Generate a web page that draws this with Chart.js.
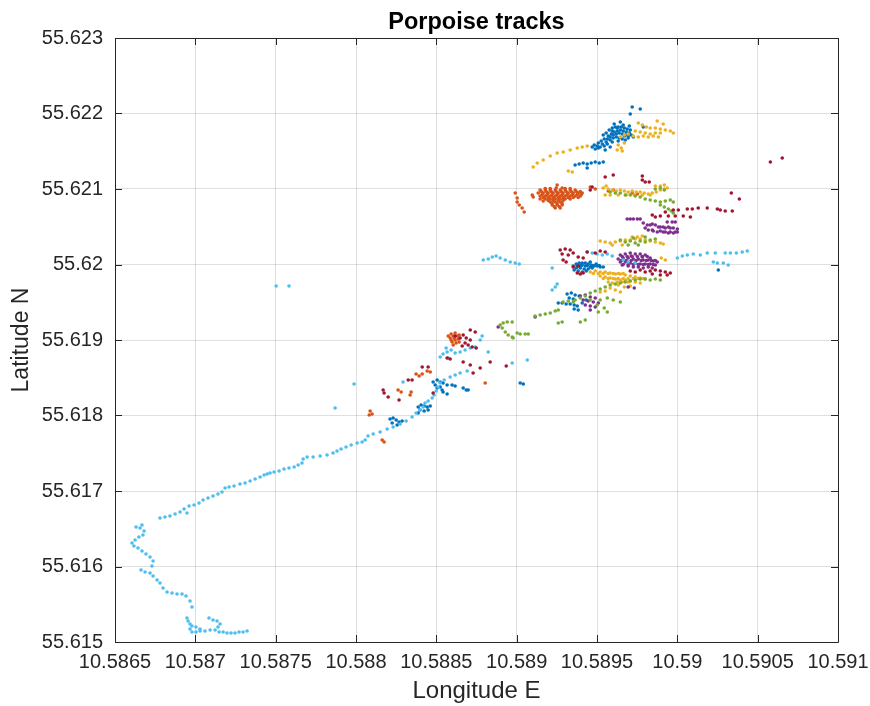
<!DOCTYPE html>
<html>
<head>
<meta charset="utf-8">
<script src="https://cdn.jsdelivr.net/npm/chart.js@4.4.0/dist/chart.umd.min.js"></script>
<style>
  body { margin: 0; background: #fff; }
  canvas { display: block; }
</style>
</head>
<body>
<canvas id="tracks" width="870" height="706"></canvas>
<script>
const plotTitle = "Porpoise tracks";

// axis ticks
const xTicks = [10.5865, 10.587, 10.5875, 10.588, 10.5885, 10.589, 10.5895, 10.59, 10.5905, 10.591];
const xTickLabels = ["10.5865", "10.587", "10.5875", "10.588", "10.5885", "10.589", "10.5895", "10.59", "10.5905", "10.591"];
const yTicks = [55.615, 55.616, 55.617, 55.618, 55.619, 55.62, 55.621, 55.622, 55.623];
const yTickLabels = ["55.615", "55.616", "55.617", "55.618", "55.619", "55.62", "55.621", "55.622", "55.623"];

// tracks, [longitude, latitude]
const trackBlue = [
  [10.589470,55.621556],[10.589489,55.621530],[10.589501,55.621570],[10.589520,55.621556],[10.589508,55.621609],
  [10.589526,55.621636],[10.589545,55.621662],[10.589557,55.621623],[10.589539,55.621715],[10.589557,55.621742],
  [10.589576,55.621781],[10.589595,55.621808],[10.589614,55.621821],[10.589632,55.621821],[10.589651,55.621821],
  [10.589670,55.621808],[10.589570,55.621702],[10.589589,55.621728],[10.589607,55.621755],[10.589626,55.621768],
  [10.589645,55.621781],[10.589663,55.621768],[10.589682,55.621755],[10.589701,55.621742],[10.589713,55.621715],
  [10.589726,55.621689],[10.589694,55.621675],[10.589676,55.621649],[10.589657,55.621662],[10.589638,55.621675],
  [10.589620,55.621689],[10.589601,55.621675],[10.589582,55.621649],[10.589564,55.621596],[10.589595,55.621623],
  [10.589632,55.621636],[10.589670,55.621702],[10.589688,55.621795],[10.589607,55.621861],[10.589645,55.621887],
  [10.589701,55.621834],[10.589719,55.622086],[10.589769,55.622060],[10.589707,55.621993],[10.589788,55.621821],
  [10.589551,55.621517],[10.589582,55.621556],[10.589533,55.621596],[10.589545,55.621570],[10.589564,55.621662],
  [10.589582,55.621689],[10.589601,55.621715],[10.589620,55.621728],[10.589638,55.621742],[10.589657,55.621728],
  [10.589676,55.621715],[10.589694,55.621702],[10.589626,55.621808],[10.589663,55.621848],[10.589595,55.621768],
  [10.589707,55.621781],[10.589508,55.621543],[10.589483,55.621583],
  [10.589364,55.621318],[10.589389,55.621331],[10.589414,55.621344],[10.589439,55.621331],[10.589464,55.621344],
  [10.589489,55.621358],[10.589514,55.621344],[10.589539,55.621358],[10.589439,55.621278],
  [10.589352,55.619980],[10.589371,55.620007],[10.589389,55.620020],[10.589408,55.620020],[10.589427,55.620020],
  [10.589445,55.620007],[10.589464,55.619993],[10.589483,55.619980],[10.589501,55.619980],[10.589520,55.619967],
  [10.589539,55.619967],[10.589371,55.619954],[10.589396,55.619954],[10.589420,55.619940],[10.589445,55.619940],
  [10.589470,55.619954],[10.589383,55.619914],[10.589408,55.619901],[10.589433,55.619914],[10.589358,55.619927],
  [10.589458,55.620033],[10.589495,55.620007],[10.589389,55.619980],[10.589427,55.619980],[10.589458,55.619967],
  [10.589408,55.619993],[10.589377,55.619987],[10.589402,55.619987],[10.589439,55.619987],[10.589477,55.619987],
  [10.589514,55.619987],
  [10.589314,55.619609],[10.589340,55.619623],[10.589364,55.619596],[10.589389,55.619583],[10.589327,55.619556],
  [10.589352,55.619543],[10.589259,55.619490],[10.589283,55.619490],[10.589308,55.619477],[10.589333,55.619477],
  [10.589358,55.619464],[10.589377,55.619450],[10.589358,55.619411],[10.589383,55.619397],[10.589408,55.619490],
  [10.589433,55.619530],
  [10.588480,55.618444],[10.588505,55.618470],[10.588524,55.618444],[10.588542,55.618430],[10.588567,55.618404],
  [10.588598,55.618404],[10.588617,55.618391],[10.588524,55.618377],[10.588536,55.618338],[10.588542,55.618311],
  [10.588567,55.618285],[10.588493,55.618404],[10.588505,55.618364],[10.588667,55.618364],[10.588686,55.618338],
  [10.588698,55.618338],
  [10.588387,55.618113],[10.588405,55.618139],[10.588424,55.618126],[10.588443,55.618113],[10.588462,55.618126],
  [10.588399,55.618073],[10.588424,55.618060],[10.588449,55.618073],[10.588387,55.618033],
  [10.588212,55.617954],[10.588231,55.617967],[10.588250,55.617940],[10.588268,55.617914],[10.588287,55.617927],
  [10.588225,55.617901],[10.588256,55.617874],
  [10.589022,55.618430],[10.589041,55.618417],[10.590255,55.619927]
];

const trackOrange = [
  [10.589146,55.620987],[10.589178,55.620987],[10.589209,55.620987],[10.589240,55.620987],[10.589271,55.620987],
  [10.589302,55.620987],[10.589333,55.620987],[10.589364,55.620987],
  [10.589153,55.620967],[10.589184,55.620967],[10.589215,55.620967],[10.589246,55.620967],[10.589277,55.620967],
  [10.589308,55.620967],[10.589340,55.620967],[10.589371,55.620967],[10.589396,55.620967],
  [10.589134,55.620947],[10.589165,55.620947],[10.589196,55.620947],[10.589227,55.620947],[10.589259,55.620947],
  [10.589289,55.620947],[10.589321,55.620947],[10.589352,55.620947],[10.589383,55.620947],[10.589408,55.620947],
  [10.589159,55.620927],[10.589190,55.620927],[10.589221,55.620927],[10.589252,55.620927],[10.589283,55.620927],
  [10.589315,55.620927],[10.589346,55.620927],[10.589377,55.620927],[10.589402,55.620927],
  [10.589146,55.620907],[10.589178,55.620907],[10.589209,55.620907],[10.589240,55.620907],[10.589271,55.620907],
  [10.589302,55.620907],[10.589333,55.620907],[10.589364,55.620907],[10.589396,55.620907],
  [10.589165,55.620887],[10.589196,55.620887],[10.589227,55.620887],[10.589259,55.620887],[10.589289,55.620887],
  [10.589321,55.620887],[10.589352,55.620887],[10.589383,55.620887],
  [10.589178,55.620868],[10.589209,55.620868],[10.589240,55.620868],[10.589271,55.620868],[10.589302,55.620868],
  [10.589333,55.620868],
  [10.589196,55.620848],[10.589227,55.620848],[10.589259,55.620848],[10.589289,55.620848],
  [10.589209,55.620828],[10.589240,55.620828],[10.589271,55.620828],
  [10.589221,55.620808],[10.589252,55.620808],[10.589283,55.620808],
  [10.589221,55.620788],[10.589252,55.620788],[10.589283,55.620788],
  [10.589234,55.620768],[10.589265,55.620768],
  [10.589240,55.620748],[10.589271,55.620748],
  [10.589178,55.621007],[10.589209,55.621007],[10.589302,55.621007],[10.589333,55.621007],
  [10.589252,55.621053],[10.589246,55.621013],[10.589283,55.621013],
  [10.588991,55.620947],[10.589003,55.620881],[10.589003,55.620828],[10.589016,55.620788],[10.589034,55.620748],
  [10.589047,55.620695],[10.589097,55.620921],[10.589103,55.620894],[10.589146,55.620868],[10.589165,55.620841],
  [10.589458,55.621026],[10.589489,55.621000],[10.589570,55.620974],[10.589601,55.620987],[10.589719,55.620947],
  [10.589751,55.620934],
  [10.588592,55.619079],[10.588617,55.619093],[10.588642,55.619066],[10.588586,55.619026],[10.588611,55.619026],
  [10.588636,55.619013],[10.588598,55.618974],[10.588623,55.618960],[10.588605,55.618934],[10.588574,55.619053],
  [10.588605,55.619053],[10.588630,55.619053],[10.588617,55.619000],[10.588592,55.619000],[10.588642,55.618974],
  [10.588374,55.618550],[10.588393,55.618523],[10.588412,55.618550],[10.588443,55.618589],[10.588462,55.618576],
  [10.588262,55.618338],[10.588281,55.618311],[10.588343,55.618311],[10.588337,55.618271],
  [10.588088,55.618060],[10.588100,55.618020],[10.588082,55.618007],
  [10.588163,55.617676],[10.588175,55.617649],[10.588804,55.618430]
];

const trackYellow = [
  [10.589757,55.621874],[10.589782,55.621848],[10.589807,55.621821],[10.589831,55.621808],[10.589863,55.621808],
  [10.589894,55.621795],[10.589925,55.621781],[10.589956,55.621768],[10.589975,55.621742],[10.589738,55.621768],
  [10.589769,55.621755],[10.589800,55.621742],[10.589831,55.621728],[10.589863,55.621742],[10.589894,55.621742],
  [10.589726,55.621702],[10.589757,55.621689],[10.589788,55.621702],[10.589819,55.621689],[10.589850,55.621702],
  [10.589882,55.621689],[10.589645,55.621689],[10.589670,55.621715],[10.589694,55.621728],[10.589632,55.621583],
  [10.589651,55.621543],[10.589670,55.621609],[10.589626,55.621517],[10.589657,55.621503],[10.589875,55.621901],
  [10.589912,55.621861],
  [10.589103,55.621291],[10.589128,55.621344],[10.589165,55.621384],[10.589209,55.621437],[10.589252,55.621477],
  [10.589290,55.621490],[10.589333,55.621517],[10.589377,55.621543],[10.589408,55.621556],[10.589439,55.621570],
  [10.589321,55.621238],[10.589346,55.621225],
  [10.589539,55.621013],[10.589570,55.621000],[10.589595,55.620987],[10.589620,55.620974],[10.589645,55.620987],
  [10.589670,55.620974],[10.589694,55.620960],[10.589719,55.620974],[10.589744,55.620960],[10.589769,55.620960],
  [10.589794,55.620947],[10.589819,55.620934],[10.589844,55.620947],[10.589869,55.620960],[10.589894,55.620987],
  [10.589919,55.621000],[10.589937,55.621013],[10.589863,55.621040],[10.589894,55.621040],[10.589919,55.621053],
  [10.589557,55.621040],[10.589551,55.620921],[10.589582,55.620921],[10.589632,55.620921],[10.589682,55.620921],
  [10.589732,55.620921],[10.589782,55.620921],[10.589831,55.620921],
  [10.589520,55.620311],[10.589551,55.620298],[10.589582,55.620285],[10.589614,55.620298],[10.589645,55.620311],
  [10.589676,55.620325],[10.589707,55.620325],[10.589738,55.620338],[10.589769,55.620338],[10.589800,55.620325],
  [10.589831,55.620311],[10.589863,55.620298],[10.589894,55.620285],[10.589912,55.620272],[10.589595,55.620258],
  [10.589657,55.620258],[10.589719,55.620364],[10.589751,55.620364],[10.589782,55.620377],
  [10.589458,55.619901],[10.589489,55.619914],[10.589520,55.619901],[10.589551,55.619901],[10.589582,55.619887],
  [10.589614,55.619874],[10.589645,55.619874],[10.589676,55.619861],[10.589707,55.619848],[10.589738,55.619834],
  [10.589769,55.619821],[10.589800,55.619808],[10.589520,55.619848],[10.589551,55.619834],[10.589582,55.619821],
  [10.589614,55.619808],[10.589645,55.619795],[10.589676,55.619795],[10.589707,55.619781],[10.589738,55.619768],
  [10.589769,55.619755],[10.589595,55.619755],[10.589632,55.619728],[10.589670,55.619702],[10.589707,55.619715],
  [10.589614,55.619662],[10.589645,55.619636],[10.589582,55.619689],[10.589520,55.619636],[10.589551,55.619649],
  [10.589477,55.619881],[10.589508,55.619881],[10.589539,55.619881],[10.589570,55.619881],[10.589601,55.619881],
  [10.589632,55.619881],[10.589663,55.619881],[10.589539,55.619815],[10.589570,55.619815],[10.589601,55.619815],
  [10.589632,55.619815],[10.589663,55.619815],[10.589694,55.619815],[10.589726,55.619815],[10.589757,55.619815],
  [10.589788,55.619815],[10.589570,55.619768],[10.589626,55.619768],[10.589657,55.619768],[10.589694,55.619768],
  [10.589900,55.620086],[10.589925,55.620060]
];

const trackPurple = [
  [10.589645,55.620126],[10.589676,55.620139],[10.589707,55.620152],[10.589738,55.620139],[10.589769,55.620139],
  [10.589800,55.620126],[10.589632,55.620073],[10.589663,55.620086],[10.589694,55.620086],[10.589726,55.620073],
  [10.589757,55.620073],[10.589788,55.620060],[10.589819,55.620060],[10.589850,55.620046],[10.589875,55.620033],
  [10.589645,55.620033],[10.589676,55.620033],[10.589707,55.620020],[10.589738,55.620020],[10.589769,55.620007],
  [10.589800,55.620007],[10.589831,55.620007],[10.589863,55.619993],[10.589694,55.619980],[10.589726,55.619967],
  [10.589757,55.619967],[10.589788,55.619954],[10.589819,55.619967],[10.589844,55.619954],[10.589713,55.620113],
  [10.589782,55.620099],[10.589831,55.620086],[10.589657,55.619993],
  [10.589657,55.620106],[10.589688,55.620106],[10.589719,55.620106],[10.589751,55.620106],[10.589782,55.620106],
  [10.589813,55.620106],[10.589651,55.620053],[10.589682,55.620053],[10.589713,55.620053],[10.589744,55.620053],
  [10.589775,55.620053],[10.589807,55.620053],[10.589838,55.620053],[10.589863,55.620053],[10.589663,55.620000],
  [10.589694,55.620000],[10.589726,55.620000],[10.589757,55.620000],[10.589788,55.620000],[10.589819,55.620000],
  [10.589850,55.620000],
  [10.589688,55.620603],[10.589707,55.620603],[10.589726,55.620603],[10.589751,55.620603],[10.589769,55.620603],
  [10.589788,55.620550],[10.589813,55.620523],[10.589844,55.620536],[10.589863,55.620523],[10.589882,55.620497],
  [10.589912,55.620497],[10.589944,55.620497],[10.589975,55.620483],[10.590000,55.620470],[10.589800,55.620483],
  [10.589819,55.620457],[10.589850,55.620444],[10.589875,55.620430],[10.589894,55.620444],[10.589925,55.620430],
  [10.589956,55.620430],[10.589987,55.620430],[10.589937,55.620563],[10.589968,55.620563],[10.589987,55.620563],
  [10.589831,55.620523],[10.589894,55.620497],[10.589925,55.620483],[10.589956,55.620483],[10.589844,55.620457],
  [10.589912,55.620430],[10.589944,55.620417],[10.589975,55.620417],[10.590000,55.620430],
  [10.589396,55.619583],[10.589427,55.619596],[10.589458,55.619570],[10.589489,55.619556],[10.589414,55.619530],
  [10.589445,55.619517],[10.589477,55.619503],[10.589508,55.619490],[10.589427,55.619464],[10.589458,55.619450],
  [10.589489,55.619437],[10.589458,55.619397],
  [10.589115,55.619305],[10.588885,55.619172],[10.589694,55.619702],[10.589732,55.619689]
];

const trackGreen = [
  [10.589582,55.620960],[10.589614,55.620947],[10.589645,55.620947],[10.589676,55.620921],[10.589707,55.620921],
  [10.589738,55.620907],[10.589769,55.620894],[10.589800,55.620868],[10.589831,55.620854],[10.589863,55.620841],
  [10.589894,55.620828],[10.589925,55.620841],[10.589956,55.620854],[10.589975,55.620828],[10.589894,55.620788],
  [10.589919,55.620762],[10.589944,55.620735],[10.589962,55.620709],[10.589975,55.620682],[10.589863,55.621000],
  [10.589894,55.621013],[10.589919,55.620987],
  [10.589645,55.620325],[10.589676,55.620298],[10.589707,55.620311],[10.589738,55.620285],[10.589769,55.620311],
  [10.589800,55.620298],[10.589831,55.620325],[10.589863,55.620338],[10.589694,55.620258],[10.589757,55.620258],
  [10.589726,55.620351],[10.589800,55.620364],
  [10.589364,55.619530],[10.589396,55.619556],[10.589427,55.619583],[10.589458,55.619623],[10.589489,55.619649],
  [10.589520,55.619676],[10.589551,55.619702],[10.589582,55.619728],[10.589614,55.619742],[10.589645,55.619755],
  [10.589676,55.619768],[10.589707,55.619781],[10.589738,55.619795],[10.589769,55.619808],[10.589800,55.619808],
  [10.589831,55.619795],[10.589863,55.619808],[10.589894,55.619795],
  [10.589289,55.619503],[10.589321,55.619517],[10.589352,55.619503],[10.589458,55.619530],[10.589520,55.619530],
  [10.589564,55.619556],[10.589601,55.619530],[10.589645,55.619503],[10.589501,55.619464],[10.589508,55.619371],
  [10.589564,55.619371],[10.589545,55.619424],
  [10.589115,55.619318],[10.589146,55.619331],[10.589178,55.619344],[10.589209,55.619358],[10.589240,55.619384],
  [10.589259,55.619397],
  [10.588897,55.619199],[10.588916,55.619225],[10.588941,55.619238],[10.588972,55.619238],[10.588910,55.619159],
  [10.588929,55.619106],[10.588947,55.619066],[10.588972,55.619040],[10.588978,55.619026],[10.589003,55.619093],
  [10.589022,55.619079],[10.589053,55.619079],[10.589072,55.619079],[10.589259,55.619225],[10.589283,55.619238],
  [10.589396,55.619238],[10.589427,55.619265]
];

const trackLightBlue = [
  [10.587322,55.615146],[10.587297,55.615132],[10.587272,55.615132],[10.587247,55.615119],[10.587222,55.615119],
  [10.587197,55.615119],[10.587173,55.615132],[10.587148,55.615132],[10.587123,55.615159],[10.587141,55.615199],
  [10.587154,55.615238],[10.587135,55.615278],[10.587110,55.615291],[10.587085,55.615318],[10.587092,55.615159],
  [10.587060,55.615146],[10.587029,55.615146],[10.587004,55.615132],[10.586979,55.615132],[10.586967,55.615172],
  [10.586979,55.615212],[10.587004,55.615199],[10.587029,55.615172],[10.586955,55.615278],[10.586967,55.615238],
  [10.586948,55.615318],[10.586979,55.615464],[10.586967,55.615543],[10.586942,55.615609],[10.586917,55.615636],
  [10.586886,55.615636],[10.586855,55.615649],[10.586824,55.615662],[10.586799,55.615715],[10.586780,55.615781],
  [10.586762,55.615821],[10.586737,55.615874],[10.586718,55.615914],[10.586687,55.615927],[10.586662,55.615954],
  [10.586730,55.616007],[10.586737,55.616073],[10.586718,55.616126],[10.586693,55.616166],[10.586668,55.616205],
  [10.586643,55.616245],[10.586618,55.616272],[10.586606,55.616311],[10.586625,55.616351],[10.586649,55.616391],
  [10.586674,55.616417],[10.586681,55.616470],[10.586656,55.616510],[10.586631,55.616523],[10.586668,55.616550],
  [10.586780,55.616642],[10.586811,55.616656],[10.586842,55.616669],[10.586874,55.616695],[10.586905,55.616722],
  [10.586930,55.616762],[10.586948,55.616709],[10.586961,55.616801],[10.586992,55.616815],[10.587023,55.616841],
  [10.587048,55.616881],[10.587079,55.616907],[10.587110,55.616934],[10.587141,55.616960],[10.587166,55.616987],
  [10.587185,55.617040],[10.587210,55.617053],[10.587241,55.617066],[10.587278,55.617093],[10.587310,55.617106],
  [10.587341,55.617132],[10.587372,55.617159],[10.587403,55.617185],[10.587428,55.617212],[10.587447,55.617225],
  [10.587465,55.617238],[10.587490,55.617252],[10.587521,55.617265],[10.587552,55.617291],[10.587583,55.617305],
  [10.587615,55.617318],[10.587640,55.617344],[10.587664,55.617371],[10.587671,55.617424],[10.587696,55.617450],
  [10.587733,55.617450],[10.587777,55.617464],[10.587820,55.617477],[10.587857,55.617503],[10.587882,55.617530],
  [10.587907,55.617556],[10.587938,55.617583],[10.587970,55.617609],[10.588007,55.617636],[10.588038,55.617649],
  [10.588057,55.617675],[10.588075,55.617728],[10.588107,55.617755],[10.588150,55.617781],[10.588194,55.617821],
  [10.588231,55.617848],[10.588275,55.617887],[10.588312,55.617927],[10.588349,55.617980],[10.588374,55.618033],
  [10.588399,55.618073],[10.588418,55.618113],[10.588430,55.618166],[10.588449,55.618192],[10.588474,55.618232],
  [10.588486,55.618272],[10.588499,55.618324],[10.588511,55.618377],[10.588524,55.618430],[10.588549,55.618470],
  [10.588586,55.618510],[10.588617,55.618536],[10.588648,55.618563],[10.588692,55.618589],
  [10.588542,55.618815],[10.588567,55.618841],[10.588592,55.618868],[10.588561,55.618894],[10.588617,55.618828],
  [10.588648,55.618841],[10.588679,55.618868],[10.588711,55.618894],[10.588742,55.618907],[10.588773,55.619000],
  [10.588785,55.619053],[10.588823,55.618841],[10.588524,55.618775],[10.588574,55.618762],
  [10.587988,55.618417],[10.587870,55.618099],[10.588293,55.618444],[10.588972,55.618695],[10.589066,55.618735],
  [10.589221,55.619662],[10.589240,55.619702],[10.589252,55.619742],[10.589221,55.619954],
  [10.587503,55.619715],[10.587583,55.619715],
  [10.588792,55.620060],[10.588823,55.620073],[10.588848,55.620099],[10.588872,55.620113],[10.588897,55.620086],
  [10.588929,55.620060],[10.588960,55.620033],[10.588991,55.620020],[10.589016,55.620007],
  [10.589439,55.620166],[10.589470,55.620152],[10.589501,55.620139],[10.589533,55.620126],[10.589564,55.620139],
  [10.589595,55.620113],[10.589663,55.620060],[10.589694,55.620033],[10.589738,55.620020],
  [10.590000,55.620086],[10.590031,55.620113],[10.590062,55.620126],[10.590099,55.620139],[10.590143,55.620126],
  [10.590186,55.620152],[10.590236,55.620152],[10.590298,55.620152],[10.590330,55.620152],[10.590367,55.620152],
  [10.590404,55.620166],[10.590435,55.620179],[10.590224,55.620033],[10.590249,55.620020],[10.590286,55.620020],
  [10.590317,55.619993]
];

const trackRed = [
  [10.590579,55.621358],[10.590653,55.621411],
  [10.589863,55.620629],[10.589925,55.620695],[10.589975,55.620722],[10.590006,55.620722],[10.590062,55.620735],
  [10.590093,55.620735],[10.590130,55.620748],[10.590186,55.620748],[10.590249,55.620735],[10.590267,55.620722],
  [10.590298,55.620709],[10.590342,55.620709],[10.590336,55.620947],[10.590386,55.620868],[10.589894,55.620642],
  [10.589944,55.620642],[10.589987,55.620642],[10.590037,55.620642],[10.590081,55.620629],[10.589844,55.620656],
  [10.589782,55.621172],[10.589782,55.621119],[10.589800,55.621093],[10.589825,55.621093],[10.589551,55.621159],
  [10.589601,55.621185],[10.589458,55.620987],[10.589470,55.621026],
  [10.589271,55.620192],[10.589302,55.620206],[10.589333,55.620192],[10.589283,55.620139],[10.589321,55.620126],
  [10.589352,55.620152],[10.589383,55.620099],[10.589414,55.620086],[10.589289,55.620060],[10.589308,55.620033],
  [10.589439,55.620166],[10.589489,55.620152],[10.589520,55.620179],[10.589551,55.620166],[10.589377,55.619887],
  [10.589396,55.619874],[10.589414,55.619887],[10.589352,55.619967],[10.589383,55.619980],
  [10.589707,55.619914],[10.589738,55.619901],[10.589769,55.619927],[10.589800,55.619901],[10.589831,55.619914],
  [10.589863,55.619927],[10.589894,55.619914],[10.589925,55.619901],[10.589956,55.619887],[10.589844,55.619874],
  [10.589894,55.619861],[10.589937,55.619861],
  [10.588617,55.619053],[10.588648,55.619026],[10.588667,55.619066],[10.588686,55.619026],[10.588711,55.619000],
  [10.588679,55.618960],[10.588698,55.618934],[10.588723,55.618907],[10.588748,55.618894],[10.588661,55.618921],
  [10.588711,55.619132],[10.588742,55.619106],[10.588567,55.618762],[10.588586,55.618748],[10.588667,55.618709],
  [10.588711,55.618669],[10.588729,55.618563],[10.588835,55.618709],[10.588773,55.618629],[10.588412,55.618642],
  [10.588449,55.618642],[10.588325,55.618470],[10.588349,55.618470],[10.588169,55.618338],[10.588175,55.618298],
  [10.588200,55.618245],[10.588268,55.618205],[10.588480,55.618298],[10.588935,55.618656]
];

const seriesColors = ["#0072BD", "#D95319", "#EDB120", "#7E2F8E", "#77AC30", "#4DBEEE", "#A2142F"];
const seriesTracks = [trackBlue, trackOrange, trackYellow, trackPurple, trackGreen, trackLightBlue, trackRed];

const axisColor = "#262626";
const gridColor = "rgba(38,38,38,0.15)";
const fontFamily = "'Liberation Sans', Arial, Helvetica, sans-serif";

// MATLAB style box with inward tick marks, title centred over the axes
const boxTicks = {
  id: "boxTicks",
  afterDraw(chart) {
    const { ctx, chartArea: a, scales } = chart;
    const len = 7;
    ctx.save();
    ctx.strokeStyle = axisColor;
    ctx.lineWidth = 1;
    ctx.beginPath();
    ctx.rect(Math.round(a.left) + 0.5, Math.round(a.top) + 0.5,
      Math.round(a.right - a.left), Math.round(a.bottom - a.top));
    xTicks.forEach(v => {
      const x = Math.round(scales.x.getPixelForValue(v)) + 0.5;
      ctx.moveTo(x, a.bottom); ctx.lineTo(x, a.bottom - len);
      ctx.moveTo(x, a.top); ctx.lineTo(x, a.top + len);
    });
    yTicks.forEach(v => {
      const y = Math.round(scales.y.getPixelForValue(v)) + 0.5;
      ctx.moveTo(a.left, y); ctx.lineTo(a.left + len, y);
      ctx.moveTo(a.right, y); ctx.lineTo(a.right - len, y);
    });
    ctx.stroke();

    ctx.fillStyle = "#000";
    ctx.font = "bold 23.5px " + fontFamily;
    ctx.textAlign = "center";
    ctx.textBaseline = "middle";
    ctx.fillText(plotTitle, (a.left + a.right) / 2, 23);
    ctx.restore();
  }
};

new Chart(document.getElementById("tracks"), {
  type: "scatter",
  data: {
    datasets: seriesTracks.map((t, i) => ({
      data: t.map(p => ({ x: p[0], y: p[1] })),
      backgroundColor: seriesColors[i],
      borderColor: seriesColors[i],
      borderWidth: 0,
      pointRadius: 1.8,
      order: seriesTracks.length - i
    }))
  },
  options: {
    responsive: false,
    animation: false,
    devicePixelRatio: 1,
    layout: { padding: { left: 0, right: 32, top: 38, bottom: 0 } },
    plugins: {
      legend: { display: false },
      tooltip: { enabled: false },
      title: { display: false }
    },
    scales: {
      x: {
        type: "linear",
        min: 10.5865,
        max: 10.591,
        afterBuildTicks: s => { s.ticks = xTicks.map(v => ({ value: v })); },
        afterFit: s => { s.height = 64; s.paddingLeft = 0; s.paddingRight = 0; },
        ticks: {
          autoSkip: false,
          maxRotation: 0,
          padding: 8,
          color: axisColor,
          font: { family: fontFamily, size: 20 },
          callback: (v, i) => xTickLabels[i]
        },
        grid: { color: gridColor, drawTicks: false },
        border: { display: false },
        title: {
          display: true,
          text: "Longitude E",
          color: axisColor,
          font: { family: fontFamily, size: 24 },
          padding: { top: 0, bottom: 0 }
        }
      },
      y: {
        type: "linear",
        min: 55.615,
        max: 55.623,
        afterBuildTicks: s => { s.ticks = yTicks.map(v => ({ value: v })); },
        afterFit: s => { s.width = 115; s.paddingTop = 0; s.paddingBottom = 0; },
        ticks: {
          autoSkip: false,
          padding: 12,
          color: axisColor,
          font: { family: fontFamily, size: 20 },
          callback: (v, i) => yTickLabels[i]
        },
        grid: { color: gridColor, drawTicks: false },
        border: { display: false },
        title: {
          display: true,
          text: "Latitude N",
          color: axisColor,
          font: { family: fontFamily, size: 23 },
          padding: { top: 8, bottom: 0 }
        }
      }
    }
  },
  plugins: [boxTicks]
});
</script>
</body>
</html>
